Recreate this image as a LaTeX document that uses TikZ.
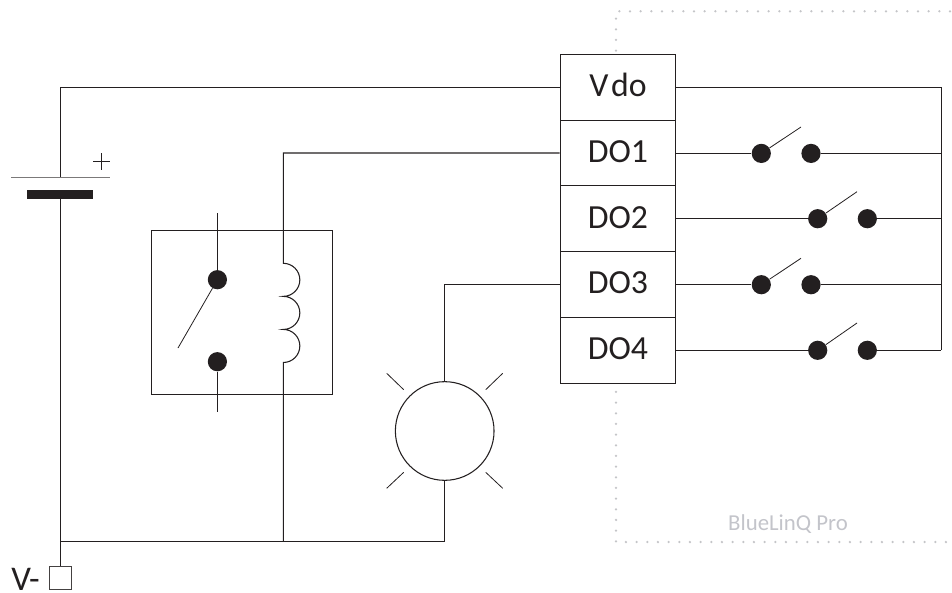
\documentclass[tikz,border=0pt]{standalone}
\usepackage{fontspec}
\setmainfont{Carlito}
\definecolor{ink}{HTML}{231F20}
\definecolor{dotgray}{HTML}{C4C5C8}
\definecolor{labelgray}{HTML}{C3C4CA}
\tikzset{
  wire/.style={draw=ink,line width=0.8pt},
  platethin/.style={draw=ink!60,line width=1pt},
  thin wire/.style={draw=ink,line width=0.6pt},
  border/.style={draw=dotgray,line width=1.9pt,line cap=round,dash pattern=on 0pt off 8pt},
  terminal/.style={draw=ink,line width=0.8pt,fill=white,rectangle,inner sep=0pt,
    minimum width=86.6pt,minimum height=49.3pt,font=\fontsize{25.3pt}{28pt}\selectfont,
    text=ink,text height=14.1pt,text depth=0pt},
  contact/.style={circle,fill=ink,draw=none,inner sep=0pt,minimum size=14.4pt},
  lamp/.style={circle,draw=ink,line width=0.8pt,inner sep=0pt,minimum size=74pt},
  termbox/.style={rectangle,draw=ink!85,line width=0.8pt,inner sep=0pt,minimum width=17pt,minimum height=16.8pt},
  relaybox/.style={rectangle,draw=ink,line width=0.8pt,inner sep=0pt,minimum width=136.1pt,minimum height=123.5pt},
  thickplate/.style={rectangle,fill=ink,draw=none,inner sep=0pt,minimum width=49.5pt,minimum height=6.8pt},
}
\begin{document}
\begin{tikzpicture}[x=0.75pt,y=-0.75pt]
\useasboundingbox (0,0) rectangle (952,592);
% enclosure (dotted)
\coordinate (encTL) at (616,11.3);
\coordinate (encTR) at (950,11.3);
\coordinate (encBL) at (616,542);
\coordinate (encBR) at (950,542);
\draw[border] (encTR) -- (encTL) -- (encBL) -- (encBR);
\node[anchor=base,text=labelgray,font=\fontsize{17.1pt}{20pt}\selectfont,inner sep=0pt] (prod) at (788,530) {BlueLinQ Pro};
% terminals
\node[terminal] (vdo) at (618,87.2) {V\kern2pt do};
\node[terminal] (do1) at (618,153) {DO1};
\node[terminal] (do2) at (618,218.7) {DO2};
\node[terminal] (do3) at (618,284.5) {DO3};
\node[terminal] (do4) at (618,350.3) {DO4};
% rail
\coordinate (railT) at (941.3,87.5);
\coordinate (rail1) at (941.3,153.4);
\coordinate (rail2) at (941.3,218.7);
\coordinate (rail3) at (941.3,284.7);
\coordinate (railB) at (941.3,350.3);
\draw[wire] (vdo.east |- railT) -- (railT) -- (railB);
% output switches
\node[contact] (s1a) at (761.3,153.4) {};
\node[contact] (s1b) at (811,153.4) {};
\node[contact] (s2a) at (817.7,218.7) {};
\node[contact] (s2b) at (867.3,218.7) {};
\node[contact] (s3a) at (761.3,284.7) {};
\node[contact] (s3b) at (811,284.7) {};
\node[contact] (s4a) at (817.7,350.3) {};
\node[contact] (s4b) at (867.3,350.3) {};
\coordinate (l1) at (801,127);
\coordinate (l2) at (857,191.7);
\coordinate (l3) at (801,258.3);
\coordinate (l4) at (857,323);
\draw[wire] (do1.east |- s1a) -- (s1a) (s1b) -- (rail1);
\draw[wire] (do2.east |- s2a) -- (s2a) (s2b) -- (rail2);
\draw[wire] (do3.east |- s3a) -- (s3a) (s3b) -- (rail3);
\draw[wire] (do4.east |- s4a) -- (s4a) (s4b) -- (railB);
\draw[thin wire] (s1a) -- (l1) (s2a) -- (l2) (s3a) -- (l3) (s4a) -- (l4);
% battery
\coordinate (batX) at (60.5,87.5);
\coordinate (plateC) at (60.5,177.7);
\coordinate (plateL) at (11,177.7);
\coordinate (plateR) at (110,177.7);
\node[thickplate] (thick) at (60,194.5) {};
\coordinate (gnd) at (60.5,541.7);
\draw[wire] (vdo.west |- batX) -- (batX) -- (plateC);
\draw[platethin] (plateL) -- (plateR);
\draw[wire] (gnd |- thick.south) -- (gnd);
\coordinate (plusL) at (93,161.7);
\coordinate (plusR) at (110,161.7);
\coordinate (plusT) at (101.5,153);
\coordinate (plusB) at (101.5,170);
\draw[thin wire] (plusL) -- (plusR) (plusT) -- (plusB);
% V- terminal
\node[termbox] (vbox) at (60.4,578) {};
\draw[wire] (gnd) -- (vbox.north -| gnd);
\node[anchor=base west,inner sep=0pt,text=ink,font=\fontsize{26pt}{28pt}\selectfont] (vminus) at (11,590) {V-};
% relay
\node[relaybox] (relay) at (241.8,312.6) {};
\node[contact] (ra) at (217.4,279.7) {};
\node[contact] (rb) at (217.4,361.7) {};
\coordinate (raT) at (217.4,213.3);
\coordinate (rbB) at (217.4,411.7);
\coordinate (lev) at (178,348);
\draw[wire] (raT) -- (ra) (rb) -- (rbB);
\draw[thin wire] (ra) -- (lev);
\coordinate (coilT) at (283.3,263.3);
\coordinate (coilB) at (283.3,362.3);
\coordinate (coilG) at (283.3,541.7);
\draw[wire] (do1.west) -- (283.3,153) -- (coilT)
  arc[start angle=90,end angle=-90,radius=12.4pt]
  arc[start angle=90,end angle=-90,radius=12.4pt]
  arc[start angle=90,end angle=-90,radius=12.4pt]
  -- (coilG);
% lamp
\node[lamp] (bulb) at (444.7,431) {};
\coordinate (bulbTop) at (444.7,284.7);
\coordinate (bulbGnd) at (444.7,541.7);
\draw[wire] (do3.west |- bulbTop) -- (bulbTop) -- (bulb.north);
\draw[wire] (bulb.south) -- (bulbGnd) -- (gnd);
\coordinate (r1a) at (386.7,373.3); \coordinate (r1b) at (403.7,389.7);
\coordinate (r2a) at (502.7,373.3); \coordinate (r2b) at (485.7,389.7);
\coordinate (r3a) at (386.7,488.3); \coordinate (r3b) at (403.7,472.3);
\coordinate (r4a) at (502.7,488.3); \coordinate (r4b) at (485.7,472.3);
\draw[thin wire] (r1a) -- (r1b) (r2a) -- (r2b) (r3a) -- (r3b) (r4a) -- (r4b);
\end{tikzpicture}
\end{document}
